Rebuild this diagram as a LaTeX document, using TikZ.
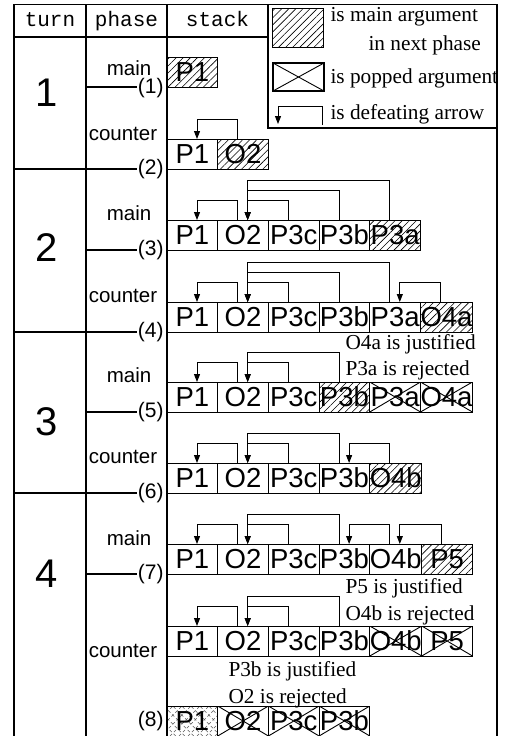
\documentclass[tikz,border=0pt]{standalone}
\usepackage{fontspec}
\setmainfont{Liberation Serif}
\setsansfont{Liberation Sans}
\setmonofont{Liberation Mono}
\usetikzlibrary{patterns.meta,arrows.meta,calc}
\newcommand\dfarrow[3]{\draw[dft] ([xshift=20pt]#1.north west) -- ++(0,-#3) -| ([xshift=30pt]#2.north west);}
\begin{document}
\begin{tikzpicture}[x=1pt,y=-1pt,line width=1pt,
  sbox/.style={draw,line width=0.9pt,minimum width=50.7pt,minimum height=30pt,inner sep=0pt,outer sep=0pt,
    font=\sffamily\fontsize{27.5}{27.5}\selectfont,text height=19.7pt,text depth=0pt},
  nx/.style={sbox,anchor=west},
  mainarg/.style={pattern={Lines[angle=45,distance=5pt,line width=0.6pt]}},
  popped/.style={path picture={\draw[line width=0.9pt] (path picture bounding box.north west) -- (path picture bounding box.south east)
      (path picture bounding box.south west) -- (path picture bounding box.north east);}},
  dotarg/.style={path picture={\foreach \d in {-60,-51,...,60}{
      \draw[black!65,line width=0.6pt,dash pattern=on 3pt off 2.5pt] ([xshift=\d pt]path picture bounding box.south west) -- ++(45,-45);
      \draw[black!65,line width=0.6pt,dash pattern=on 3pt off 2.5pt] ([xshift=\d pt]path picture bounding box.south east) -- ++(-45,-45);}}},
  dft/.style={-{Triangle[length=8pt,width=6pt]},line width=1pt},
  tbl/.style={line width=1.2pt},
  hdr/.style={font=\ttfamily\fontsize{21}{21}\selectfont,anchor=base},
  turnlbl/.style={font=\sffamily\fontsize{40}{40}\selectfont,anchor=base},
  phlbl/.style={font=\sffamily\fontsize{20.5}{20.5}\selectfont,anchor=base},
  numlbl/.style={font=\sffamily\fontsize{21}{21}\selectfont,anchor=east,inner sep=0pt},
  note/.style={font=\fontsize{21.3}{21.3}\selectfont,anchor=base west,inner sep=0pt}
]
\useasboundingbox (0,0) rectangle (505,736);

% ---- table frame ----
\draw[tbl] (14,737) -- (14,4.5) -- (497,4.5) -- (497,737);
\draw[tbl] (86,4.5) -- (86,737);
\draw[tbl] (167,4.5) -- (167,737);
\draw[tbl] (268,4.5) -- (268,128) -- (497,128);
\draw[tbl] (14,37) -- (268,37);

% ---- header ----
\node[hdr] (hturn) at (50,27) {turn};
\node[hdr] (hphase) at (126.5,27) {phase};
\node[hdr] (hstack) at (217.5,27) {stack};

% ---- legend ----
\node[sbox,mainarg,minimum width=51pt,minimum height=39pt,anchor=north west] (legmain) at (272,8) {};
\node[sbox,popped,line width=1.5pt,minimum width=51pt,minimum height=28pt,anchor=north west] (legpop) at (273,63) {};
\coordinate (legfrom) at (322,125);
\coordinate (legto) at (278,124);
\draw[dft] (legfrom) -- ++(0,-19) -| (legto);
\node[note] (lt1) at (330,21.5) {is main argument};
\node[note] (lt2) at (368,50) {in next phase};
\node[note] (lt3) at (330,83) {is popped argument};
\node[note] (lt4) at (330,119) {is defeating arrow};

% ---- turn numbers ----
\node[turnlbl] (n1) at (47,106) {1};
\node[turnlbl] (n2) at (47,261) {2};
\node[turnlbl] (n3) at (47,435) {3};
\node[turnlbl] (n4) at (47,587) {4};

% ---- phase labels ----
\node[phlbl] (p1m) at (129,75) {main};
\node[phlbl,anchor=base east] (p1c) at (161,140) {counter};
\node[phlbl] (p2m) at (129,220) {main};
\node[phlbl,anchor=base east] (p2c) at (161,302) {counter};
\node[phlbl] (p3m) at (129,382) {main};
\node[phlbl,anchor=base east] (p3c) at (161,463) {counter};
\node[phlbl] (p4m) at (129,545) {main};
\node[phlbl,anchor=base east] (p4c) at (161,657) {counter};

% ---- step numbers and separators ----
\node[numlbl] (s1) at (164,88) {(1)};
\node[numlbl] (s2) at (164,169) {(2)};
\node[numlbl] (s3) at (164,250) {(3)};
\node[numlbl] (s4) at (164,332) {(4)};
\node[numlbl] (s5) at (164,412) {(5)};
\node[numlbl] (s6) at (164,493) {(6)};
\node[numlbl] (s7) at (164,574) {(7)};
\node[numlbl] (s8) at (164,721) {(8)};
\draw[tbl] (86,87) -- (s1.west |- 0,87);
\draw[tbl] (14,169) -- (s2.west);
\draw[tbl] (86,250) -- (s3.west);
\draw[tbl] (14,332) -- (s4.west);
\draw[tbl] (86,412) -- (s5.west);
\draw[tbl] (14,493) -- (s6.west);
\draw[tbl] (86,574) -- (s7.west);

% ---- (1) turn 1 main ----
\node[sbox,mainarg,anchor=south west] (a1) at (167,87) {P1};

% ---- (2) turn 1 counter ----
\node[sbox,anchor=south west] (b1) at (167,169) {P1};
\node[nx,mainarg] (b2) at (b1.east) {O2};
\dfarrow{b2}{b1}{20}

% ---- (3) turn 2 main ----
\node[sbox,anchor=south west] (c1) at (167,250) {P1};
\node[nx] (c2) at (c1.east) {O2};
\node[nx] (c3) at (c2.east) {P3c};
\node[nx] (c4) at (c3.east) {P3b};
\node[nx,mainarg] (c5) at (c4.east) {P3a};
\dfarrow{c5}{c2}{40}
\dfarrow{c4}{c2}{30}
\dfarrow{c3}{c2}{20}
\dfarrow{c2}{c1}{20}

% ---- (4) turn 2 counter ----
\node[sbox,anchor=south west] (d1) at (167,332) {P1};
\node[nx] (d2) at (d1.east) {O2};
\node[nx] (d3) at (d2.east) {P3c};
\node[nx] (d4) at (d3.east) {P3b};
\node[nx] (d5) at (d4.east) {P3a};
\node[nx,mainarg] (d6) at (d5.east) {O4a};
\dfarrow{d5}{d2}{40}
\dfarrow{d4}{d2}{30}
\dfarrow{d3}{d2}{20}
\dfarrow{d2}{d1}{20}
\dfarrow{d6}{d5}{20}

% ---- (5) turn 3 main ----
\node[sbox,anchor=south west] (e1) at (167,412) {P1};
\node[nx] (e2) at (e1.east) {O2};
\node[nx] (e3) at (e2.east) {P3c};
\node[nx,mainarg] (e4) at (e3.east) {P3b};
\node[nx,popped] (e5) at (e4.east) {P3a};
\node[nx,popped] (e6) at (e5.east) {O4a};
\dfarrow{e4}{e2}{30}
\dfarrow{e3}{e2}{20}
\dfarrow{e2}{e1}{20}
\node[note] (j1) at (345,349.5) {O4a is justified};
\node[note] (r1) at (345,375.5) {P3a is rejected};

% ---- (6) turn 3 counter ----
\node[sbox,anchor=south west] (f1) at (167,493) {P1};
\node[nx] (f2) at (f1.east) {O2};
\node[nx] (f3) at (f2.east) {P3c};
\node[nx] (f4) at (f3.east) {P3b};
\node[nx,mainarg] (f5) at (f4.east) {O4b};
\dfarrow{f4}{f2}{30}
\dfarrow{f3}{f2}{20}
\dfarrow{f2}{f1}{20}
\dfarrow{f5}{f4}{20}

% ---- (7) turn 4 main ----
\node[sbox,anchor=south west] (g1) at (167,574) {P1};
\node[nx] (g2) at (g1.east) {O2};
\node[nx] (g3) at (g2.east) {P3c};
\node[nx] (g4) at (g3.east) {P3b};
\node[nx] (g5) at (g4.east) {O4b};
\node[nx,mainarg] (g6) at (g5.east) {P5};
\dfarrow{g4}{g2}{30}
\dfarrow{g3}{g2}{20}
\dfarrow{g2}{g1}{20}
\dfarrow{g5}{g4}{20}
\dfarrow{g6}{g5}{20}
\node[note] (j2) at (345,593) {P5 is justified};
\node[note] (r2) at (345,620) {O4b is rejected};

% ---- turn 4 counter ----
\node[sbox,anchor=south west] (h1) at (167,656) {P1};
\node[nx] (h2) at (h1.east) {O2};
\node[nx] (h3) at (h2.east) {P3c};
\node[nx] (h4) at (h3.east) {P3b};
\node[nx,popped] (h5) at (h4.east) {O4b};
\node[nx,popped] (h6) at (h5.east) {P5};
\dfarrow{h4}{h2}{30}
\dfarrow{h3}{h2}{20}
\dfarrow{h2}{h1}{20}
\node[note] (j3) at (228,676) {P3b is justified};
\node[note] (r3) at (228,703) {O2 is rejected};

% ---- (8) ----
\node[sbox,dotarg,anchor=south west] (k1) at (167,736) {P1};
\node[nx,popped] (k2) at (k1.east) {O2};
\node[nx,popped] (k3) at (k2.east) {P3c};
\node[nx,popped] (k4) at (k3.east) {P3b};
\end{tikzpicture}
\end{document}
